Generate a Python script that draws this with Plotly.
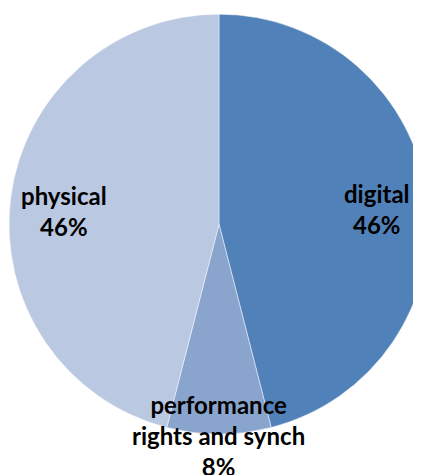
import plotly.graph_objects as go

categories = ["digital", "performance rights and synch", "physical"]
display_labels = ["digital", "performance<br>rights and synch", "physical"]
values = [46, 8, 46]
colors = ["#5181B9", "#8AA5CD", "#BBC8E1"]

# label anchor positions (paper coordinates)
label_x = [0.876, 0.499, 0.133]
label_y = [0.577, 0.099, 0.573]

fig = go.Figure(
    go.Pie(
        labels=categories,
        values=values,
        sort=False,
        direction="clockwise",
        rotation=0,
        marker=dict(colors=colors, line=dict(color="rgba(255,255,255,0.45)", width=1)),
        textinfo="none",
        hoverinfo="label+percent",
        domain=dict(x=[0.0024, 1.0], y=[0.103, 0.987]),
        showlegend=False,
    )
)

total = sum(values)
annotations = []
for lab, v, x, y in zip(display_labels, values, label_x, label_y):
    pct = round(100 * v / total)
    annotations.append(
        dict(
            text=f"{lab}<br>{pct}%",
            x=x,
            y=y,
            xref="paper",
            yref="paper",
            showarrow=False,
            xanchor="center",
            yanchor="middle",
            align="center",
            font=dict(family="Lato", size=24, color="#000000", weight="bold"),
        )
    )

fig.update_layout(
    width=421,
    height=475,
    margin=dict(l=0, r=0, t=0, b=0),
    paper_bgcolor="white",
    plot_bgcolor="white",
    annotations=annotations,
)

fig.write_html("out.html")
